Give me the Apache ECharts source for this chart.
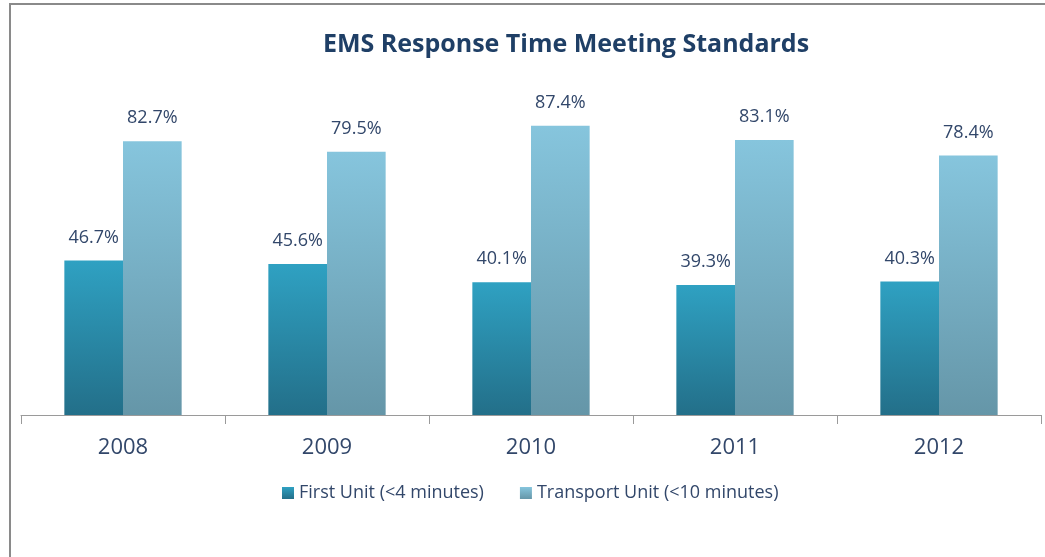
<!DOCTYPE html>
<html>
<head>
<meta charset="utf-8">
<script src="https://cdn.jsdelivr.net/npm/echarts@6/dist/echarts.min.js"></script>
<style>
html, body { margin: 0; padding: 0; background: #fff; }
#chart { width: 1045px; height: 557px; }
</style>
</head>
<body>
<div id="chart"></div>
<script>
// values
var years = ['2008', '2009', '2010', '2011', '2012'];
var firstUnit = [46.7, 45.6, 40.1, 39.3, 40.3];
var transportUnit = [82.7, 79.5, 87.4, 83.1, 78.4];
var seriesNames = ['First Unit (<4 minutes)', 'Transport Unit (<10 minutes)'];

var textColor = '#32476a';
var fontName = '"Open Sans", "Liberation Sans", sans-serif';

function grad(top, bottom) {
    return new echarts.graphic.LinearGradient(0, 0, 0, 1, [
        { offset: 0, color: top },
        { offset: 1, color: bottom }
    ]);
}

var chart = echarts.init(document.getElementById('chart'));
chart.setOption({
    animation: false,
    textStyle: { fontFamily: fontName },
    title: {
        text: 'EMS Response Time Meeting Standards',
        left: 561,
        textAlign: 'center',
        top: 27,
        textStyle: { color: '#1f3f66', fontSize: 25, fontWeight: 'bold', fontFamily: fontName }
    },
    graphic: [{
        type: 'rect',
        shape: { x: 10, y: 4, width: 1200, height: 700 },
        style: { fill: 'none', stroke: '#8a8a8a', lineWidth: 2 },
        silent: true
    }],
    legend: {
        data: seriesNames,
        bottom: 50,
        left: 277,
        itemWidth: 12,
        itemHeight: 12,
        itemGap: 36,
        icon: 'rect',
        textStyle: { color: textColor, fontSize: 18, fontFamily: fontName }
    },
    grid: { left: 21, right: 4, top: 84, bottom: 142 },
    xAxis: {
        type: 'category',
        data: years,
        axisLine: { lineStyle: { color: '#9a9a9a', width: 1 } },
        axisTick: { show: true, interval: 0, length: 9, lineStyle: { color: '#9a9a9a', width: 1 } },
        axisLabel: { color: textColor, fontSize: 22, margin: 22, fontFamily: fontName }
    },
    yAxis: {
        type: 'value',
        min: 0,
        max: 100,
        show: false,
        splitLine: { show: false }
    },
    series: [{
        name: seriesNames[0],
        type: 'bar',
        data: firstUnit,
        barGap: '0%',
        barCategoryGap: '42.5%',
        itemStyle: { color: grad('#2fa1c2', '#236f89') },
        label: {
            show: true, position: 'top', distance: 14,
            formatter: '{c}%', color: textColor, fontSize: 18, fontFamily: fontName
        }
    }, {
        name: seriesNames[1],
        type: 'bar',
        data: transportUnit,
        itemStyle: { color: grad('#86c5dd', '#6596a8') },
        label: {
            show: true, position: 'top', distance: 14,
            formatter: '{c}%', color: textColor, fontSize: 18, fontFamily: fontName
        }
    }]
});
</script>
</body>
</html>
